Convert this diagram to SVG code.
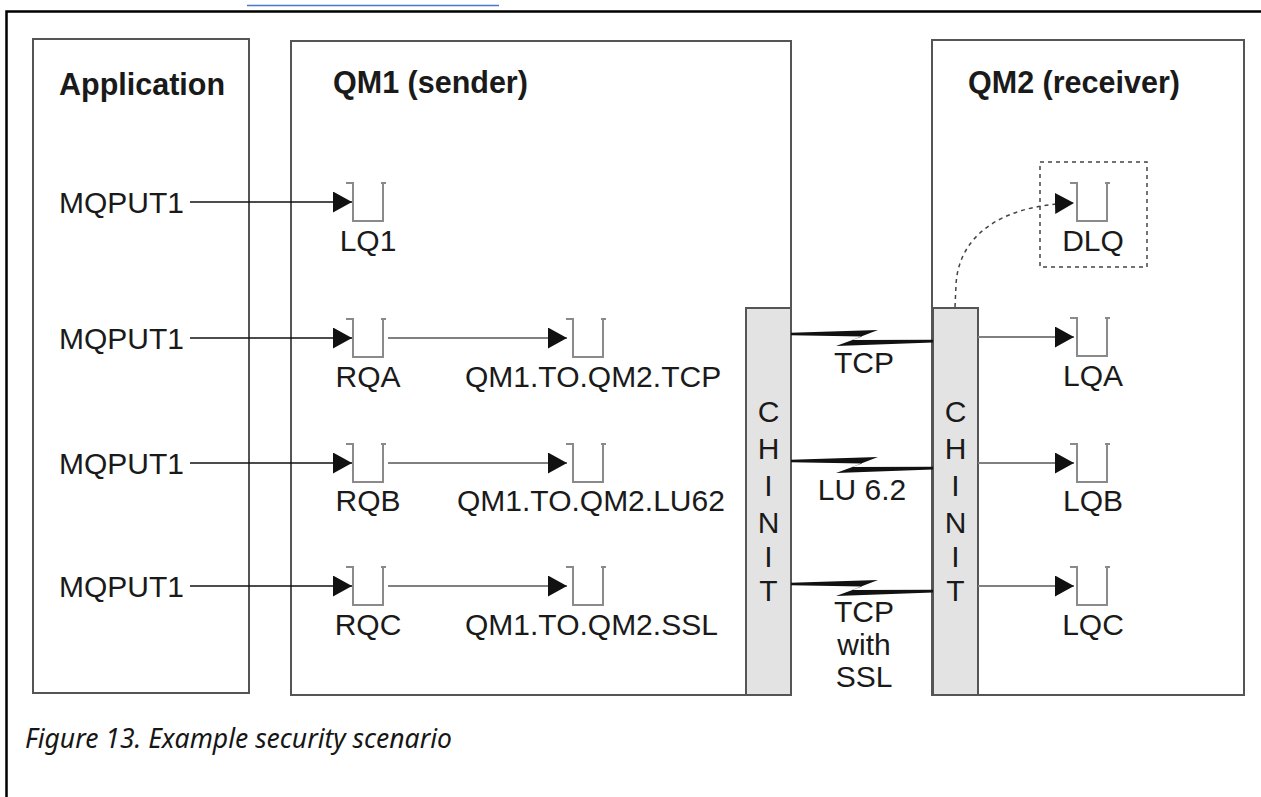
<svg xmlns="http://www.w3.org/2000/svg" xmlns:xlink="http://www.w3.org/1999/xlink" width="1261" height="797" viewBox="0 0 1261 797">
<style>
.box{fill:none;stroke:#555;stroke-width:2}
.chinit{fill:#e3e3e3;stroke:#555;stroke-width:2}
.t{font-family:"Liberation Sans",Arial,sans-serif;font-size:30px;fill:#1a1a1a}
.tb{font-family:"Liberation Sans",Arial,sans-serif;font-size:30.5px;font-weight:bold;fill:#1a1a1a}
.q{fill:none;stroke:#8a8a8a;stroke-width:2}
.blk{fill:none;stroke:#111;stroke-width:1.5}
.gry{fill:none;stroke:#808080;stroke-width:2}
.dot{fill:none;stroke:#444;stroke-width:1.5;stroke-dasharray:4 4}
.cap{font-family:"Noto Sans","Open Sans",sans-serif;font-size:26.5px;font-style:italic;fill:#161616}
.bolt{fill:#111}
</style>
<defs>
<marker id="ah" markerWidth="19" markerHeight="21" refX="19" refY="10.5" orient="auto" markerUnits="userSpaceOnUse"><path d="M0,0 L19,10.5 L0,21 Z" fill="#111"/></marker>
<path id="qs" d="M-7,-19 H0 V19 H30 V-19 M28,-19 H33"/>
<path id="bolt" d="M791,332.8 L878,330 L852,340 L933,339.8 L933,342.5 L836,346 L862,336.5 L791,335.2 Z"/>
</defs>

<g id="frame">
<path d="M6.5,797 V11.5 H1261" fill="none" stroke="#000" stroke-width="2.5"/>
<line x1="247" y1="5.5" x2="499" y2="5.5" stroke="#4a78c8" stroke-width="1.5"/>
</g>

<g id="application">
<rect class="box" x="33" y="39" width="216" height="654"/>
<text class="tb" x="59" y="95">Application</text>
<text class="t" x="59" y="213">MQPUT1</text>
<text class="t" x="59" y="349">MQPUT1</text>
<text class="t" x="59" y="474">MQPUT1</text>
<text class="t" x="59" y="597">MQPUT1</text>
</g>

<g id="qm1">
<rect class="box" x="291" y="41" width="500" height="654"/>
<text class="tb" x="333" y="93">QM1 (sender)</text>
</g>

<g id="qm2">
<rect class="box" x="932" y="40" width="312" height="655"/>
<text class="tb" x="968" y="93">QM2 (receiver)</text>
</g>

<g id="chinit1">
<rect class="chinit" x="746" y="308" width="45" height="387"/>
<g class="t" text-anchor="middle">
<text x="768.5" y="422">C</text><text x="768.5" y="459">H</text><text x="768.5" y="496">I</text>
<text x="768.5" y="533">N</text><text x="768.5" y="567">I</text><text x="768.5" y="601">T</text>
</g>
</g>

<g id="chinit2">
<rect class="chinit" x="933" y="308" width="45" height="387"/>
<g class="t" text-anchor="middle">
<text x="955.5" y="422">C</text><text x="955.5" y="459">H</text><text x="955.5" y="496">I</text>
<text x="955.5" y="533">N</text><text x="955.5" y="567">I</text><text x="955.5" y="601">T</text>
</g>
</g>

<g id="lq1"><use xlink:href="#qs" class="q" x="353" y="202"/><text class="t" x="368" y="251" text-anchor="middle">LQ1</text></g>
<g id="rqa"><use xlink:href="#qs" class="q" x="353" y="338"/><text class="t" x="368" y="387" text-anchor="middle">RQA</text></g>
<g id="rqb"><use xlink:href="#qs" class="q" x="353" y="463"/><text class="t" x="368" y="511" text-anchor="middle">RQB</text></g>
<g id="rqc"><use xlink:href="#qs" class="q" x="353" y="586"/><text class="t" x="368" y="635" text-anchor="middle">RQC</text></g>

<g id="xmitq-tcp"><use xlink:href="#qs" class="q" x="573" y="338"/><text class="t" x="465" y="387">QM1.TO.QM2.TCP</text></g>
<g id="xmitq-lu62"><use xlink:href="#qs" class="q" x="573" y="463"/><text class="t" x="457" y="511">QM1.TO.QM2.LU62</text></g>
<g id="xmitq-ssl"><use xlink:href="#qs" class="q" x="573" y="586"/><text class="t" x="465" y="635">QM1.TO.QM2.SSL</text></g>

<g id="dlq">
<rect class="dot" x="1040" y="162" width="107" height="105"/>
<use xlink:href="#qs" class="q" x="1077" y="202"/>
<text class="t" x="1093" y="251" text-anchor="middle">DLQ</text>
</g>
<g id="lqa"><use xlink:href="#qs" class="q" x="1077" y="337"/><text class="t" x="1093" y="386" text-anchor="middle">LQA</text></g>
<g id="lqb"><use xlink:href="#qs" class="q" x="1077" y="463"/><text class="t" x="1093" y="511" text-anchor="middle">LQB</text></g>
<g id="lqc"><use xlink:href="#qs" class="q" x="1077" y="586"/><text class="t" x="1093" y="635" text-anchor="middle">LQC</text></g>

<g id="connectors">
<line class="blk" x1="190" y1="202" x2="352" y2="202" marker-end="url(#ah)"/>
<line class="blk" x1="190" y1="338" x2="352" y2="338" marker-end="url(#ah)"/>
<line class="blk" x1="190" y1="463" x2="352" y2="463" marker-end="url(#ah)"/>
<line class="blk" x1="190" y1="586" x2="352" y2="586" marker-end="url(#ah)"/>
<line class="gry" x1="388" y1="338" x2="567" y2="338" marker-end="url(#ah)"/>
<line class="gry" x1="388" y1="463" x2="567" y2="463" marker-end="url(#ah)"/>
<line class="gry" x1="388" y1="586" x2="567" y2="586" marker-end="url(#ah)"/>
<line class="gry" x1="978" y1="337" x2="1074" y2="337" marker-end="url(#ah)"/>
<line class="gry" x1="978" y1="463" x2="1074" y2="463" marker-end="url(#ah)"/>
<line class="gry" x1="978" y1="586" x2="1074" y2="586" marker-end="url(#ah)"/>
<path class="dot" d="M955,307 L956,285 C958,240 995,205 1074,203" marker-end="url(#ah)"/>
<use xlink:href="#bolt" class="bolt"/>
<use xlink:href="#bolt" class="bolt" y="127"/>
<use xlink:href="#bolt" class="bolt" y="250"/>
<g class="t" text-anchor="middle">
<text x="864" y="373">TCP</text>
<text x="862" y="500">LU 6.2</text>
<text x="864" y="622">TCP</text>
<text x="864" y="655">with</text>
<text x="864" y="687">SSL</text>
</g>
</g>

<g id="caption">
<text class="cap" x="25" y="748">Figure 13. Example security scenario</text>
</g>
</svg>
